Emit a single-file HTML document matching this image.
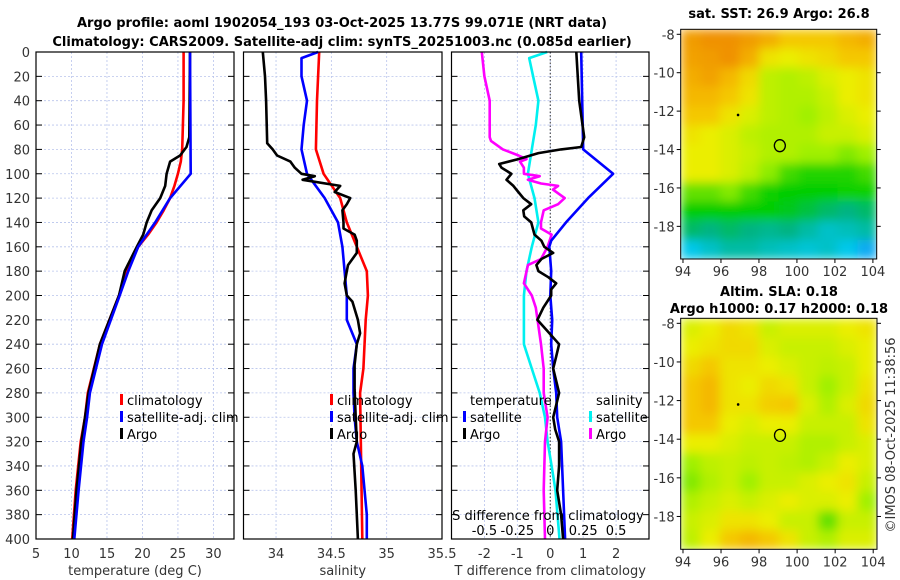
<!DOCTYPE html>
<html><head><meta charset="utf-8">
<style>
body{margin:0;background:#fff;}
svg{display:block;font-family:"DejaVu Sans","Liberation Sans",sans-serif;}
.tk{font-size:13px;fill:#333;}
.tt{font-size:13px;font-weight:bold;fill:#000;}
.lg{font-size:13px;fill:#000;}
</style></head>
<body>
<svg id="fig" width="900" height="580" viewBox="0 0 900 580">
<defs>
<filter id="blur" x="-5%" y="-5%" width="110%" height="110%"><feGaussianBlur stdDeviation="5" edgeMode="duplicate"/></filter>
<clipPath id="clipA"><rect x="680.7" y="29.3" width="196" height="229.7"/></clipPath>
<clipPath id="clipB"><rect x="680.7" y="318.3" width="196.3" height="231"/></clipPath>
</defs>
<text class="tt" x="342" y="27" text-anchor="middle">Argo profile: aoml 1902054_193 03-Oct-2025 13.77S 99.071E (NRT data)</text>
<text class="tt" x="342" y="46" text-anchor="middle">Climatology: CARS2009. Satellite-adj clim: synTS_20251003.nc (0.085d earlier)</text>
<text class="tt" x="779" y="18" text-anchor="middle">sat. SST: 26.9 Argo: 26.8</text>
<text class="tt" x="779" y="296" text-anchor="middle">Altim. SLA: 0.18</text>
<text class="tt" x="779" y="313" text-anchor="middle">Argo h1000: 0.17 h2000: 0.18</text>
<text class="tk" transform="translate(895,435) rotate(-90)" text-anchor="middle">©IMOS 08-Oct-2025 11:38:56</text>
</svg>
<script>
// ---------- data ----------
const depthTicks=[0,20,40,60,80,100,120,140,160,180,200,220,240,260,280,300,320,340,360,380,400];
const tempTicks=[5,10,15,20,25,30];
const salTicks=[34,34.5,35,35.5];
const salTickLabels=["34","34.5","35","35.5"];
const diffTicks=[-2,-1,0,1,2];
const sdiffTicks=[-0.5,-0.25,0,0.25,0.5];
const sdiffTickLabels=["-0.5","-0.25","0","0.25","0.5"];

const climTDepth=[0,40,80,90,100,110,120,130,140,150,160,180,200,240,280,300,320,360,400];
const climT=[25.8,25.8,25.6,25.4,25.0,24.5,23.9,23.0,22.0,20.8,19.4,17.8,16.7,14.0,12.3,11.9,11.3,10.6,10.1];
const satTDepth=[0,100,120,140,160,180,200,240,280,300,320,360,400];
const satT=[26.7,26.8,23.9,21.8,19.4,18.0,16.8,14.3,12.6,12.2,11.7,11.0,10.4];
const argoTDepth=[0,70,78,85,90,100,110,120,130,140,150,160,180,200,240,280,300,320,360,400];
const argoT=[26.7,26.6,26.2,25.3,23.9,23.4,23.2,22.5,21.3,20.6,20.1,19.2,17.5,16.7,14.0,12.4,11.9,11.4,10.7,10.2];

const climSDepth=[0,40,80,100,120,140,160,180,200,220,260,280,400];
const climS=[34.39,34.37,34.36,34.43,34.58,34.64,34.73,34.82,34.83,34.81,34.79,34.76,34.78];
const satSDepth=[0,5,20,40,60,80,100,120,140,160,180,200,220,240,260,280,300,320,340,380,400];
const satS=[34.38,34.23,34.23,34.28,34.25,34.23,34.28,34.44,34.56,34.60,34.62,34.64,34.64,34.73,34.70,34.70,34.71,34.73,34.78,34.82,34.82];
const argoSDepth=[0,20,40,75,80,85,90,95,100,102,105,110,115,120,125,130,140,145,150,155,165,175,180,190,200,205,220,231,240,257,277,300,320,330,360,400];
const argoS=[33.88,33.90,33.91,33.92,33.97,34.01,34.13,34.17,34.23,34.35,34.24,34.58,34.53,34.67,34.64,34.60,34.61,34.61,34.71,34.73,34.73,34.65,34.64,34.62,34.64,34.69,34.74,34.76,34.73,34.71,34.71,34.72,34.73,34.70,34.72,34.74];

const dTSatDepth=[0,80,100,120,140,155,160,180,200,220,240,260,280,300,320,360,400];
const dTSat=[0.94,1.0,1.91,1.15,0.48,0.03,-0.03,0.03,0,0.06,0.03,0.09,0.18,0.21,0.33,0.39,0.45];
const dTArgoDepth=[0,40,70,78,80,83,88,92,95,100,105,110,115,120,125,130,135,140,150,155,160,165,170,175,180,185,190,195,200,210,220,230,240,250,260,280,290,300,310,320,340,360,380,400];
const dTArgo=[0.79,0.88,1.03,0.94,0.33,-0.36,-0.97,-1.55,-1.48,-1.18,-1.33,-1.12,-0.97,-0.82,-0.58,-0.82,-0.79,-0.58,-0.48,-0.27,-0.18,0.09,-0.27,-0.42,-0.36,-0.06,0.18,0.03,0.03,-0.21,-0.39,-0.06,0.27,0.18,0.09,0.27,0.18,0.09,0.15,0.27,0.27,0.21,0.33,0.39];
const dSSatDepth=[0,5,20,40,60,80,100,120,140,160,180,200,220,240,260,280,300,320,340,360,400];
const dSSat=[-0.023,-0.16,-0.13,-0.09,-0.11,-0.14,-0.17,-0.12,-0.09,-0.14,-0.18,-0.20,-0.20,-0.20,-0.14,-0.08,-0.04,-0.02,0.01,0.04,0.07];
const dSArgoDepth=[0,20,40,70,73,80,85,88,90,95,100,102,105,108,110,113,120,125,130,140,145,150,160,170,175,190,200,210,240,260,280,300,320,360,400];
const dSArgo=[-0.52,-0.50,-0.46,-0.46,-0.45,-0.36,-0.24,-0.18,-0.23,-0.20,-0.20,-0.08,-0.17,-0.07,0.06,0.02,0.11,0.06,-0.05,-0.07,-0.07,0.01,-0.02,-0.07,-0.17,-0.20,-0.14,-0.11,-0.07,-0.05,-0.05,-0.02,-0.04,-0.05,-0.04];

// map data (normalised colour index 0=blue .. 1=orange), rows from north to south
const lonTicks=[94,96,98,100,102,104];
const latTicks=[-8,-10,-12,-14,-16,-18];
const sstGrid=[
[0.93,0.95,0.95,0.93,0.90,0.85,0.85,0.85,0.88,0.90],
[0.92,0.93,0.95,0.90,0.80,0.78,0.80,0.82,0.85,0.85],
[0.90,0.92,0.88,0.82,0.70,0.68,0.70,0.75,0.78,0.80],
[0.88,0.88,0.85,0.80,0.70,0.68,0.68,0.72,0.78,0.80],
[0.85,0.85,0.80,0.75,0.70,0.68,0.65,0.70,0.75,0.78],
[0.80,0.78,0.75,0.70,0.68,0.68,0.68,0.72,0.72,0.75],
[0.78,0.78,0.75,0.72,0.68,0.68,0.65,0.65,0.60,0.65],
[0.78,0.78,0.75,0.70,0.62,0.50,0.45,0.45,0.45,0.50],
[0.55,0.55,0.60,0.50,0.42,0.40,0.40,0.40,0.42,0.42],
[0.40,0.40,0.40,0.40,0.40,0.38,0.35,0.32,0.30,0.32],
[0.32,0.30,0.32,0.30,0.28,0.30,0.25,0.20,0.22,0.25],
[0.15,0.20,0.25,0.25,0.22,0.20,0.18,0.20,0.15,0.10]];
const slaGrid=[
[0.75,0.78,0.82,0.80,0.72,0.75,0.75,0.75,0.78,0.80],
[0.78,0.80,0.82,0.82,0.75,0.72,0.72,0.72,0.75,0.78],
[0.82,0.85,0.80,0.80,0.78,0.75,0.72,0.70,0.72,0.78],
[0.85,0.88,0.80,0.78,0.82,0.80,0.72,0.65,0.72,0.80],
[0.85,0.88,0.80,0.80,0.84,0.85,0.75,0.68,0.75,0.82],
[0.85,0.85,0.78,0.75,0.78,0.78,0.72,0.72,0.72,0.80],
[0.78,0.78,0.75,0.72,0.72,0.72,0.68,0.68,0.72,0.75],
[0.65,0.70,0.72,0.70,0.72,0.70,0.68,0.72,0.78,0.75],
[0.60,0.68,0.72,0.65,0.72,0.72,0.75,0.78,0.80,0.72],
[0.68,0.72,0.75,0.72,0.75,0.78,0.75,0.75,0.78,0.65],
[0.72,0.75,0.80,0.80,0.78,0.72,0.72,0.55,0.72,0.72],
[0.70,0.78,0.85,0.88,0.85,0.80,0.72,0.68,0.75,0.75]];
const argoPos=[99.1,-13.8];
const otherPos=[96.9,-12.2];

// ---------- drawing ----------
const NS='http://www.w3.org/2000/svg';
const svg=document.getElementById('fig');
function mk(tag,attrs,parent){const e=document.createElementNS(NS,tag);for(const k in attrs)e.setAttribute(k,attrs[k]);(parent||svg).appendChild(e);return e;}
const Y0=52,Y1=539;
function yScale(d){return Y0+d*(Y1-Y0)/400;}
function lin(d0,d1,r0,r1){return v=>r0+(v-d0)*(r1-r0)/(d1-d0);}
const panels=[
 {name:'temperature-panel',x0:36,x1:234,sx:lin(5,32.9,36,234),ticks:tempTicks,labels:tempTicks.map(String),title:'temperature (deg C)',depthLabels:true},
 {name:'salinity-panel',x0:243.5,x1:442,sx:lin(33.706,35.5,243.5,442),ticks:salTicks,labels:salTickLabels,title:'salinity'},
 {name:'difference-panel',x0:451.5,x1:649,sx:lin(-3,3,451.5,649),ticks:diffTicks,labels:diffTicks.map(String),title:'T difference from climatology'}
];
panels.forEach(p=>{
  const g=mk('g',{});
  
  
  depthTicks.forEach(d=>{
    const y=yScale(d);
    const gl=mk('line',{x1:p.x0,x2:p.x1,y1:y,y2:y,stroke:'#b8c4ec','stroke-width':0.8,'stroke-dasharray':'2,2'},g);
    
    
    mk('line',{x1:p.x0,x2:p.x0+6,y1:y,y2:y,stroke:'#000'},g);
    mk('line',{x1:p.x1-6,x2:p.x1,y1:y,y2:y,stroke:'#000'},g);
    if(p.depthLabels){const t=mk('text',{class:'tk',x:30,y:y+5,'text-anchor':'end'},g);t.textContent=d;
      
      }
  });
  p.ticks.forEach((v,i)=>{
    const x=p.sx(v);
    if(x>p.x0+2&&x<p.x1-2){
      const gl=mk('line',{x1:x,x2:x,y1:Y0,y2:Y1,stroke:'#b8c4ec','stroke-width':0.8,'stroke-dasharray':'2,2'},g);
      
      
    }
    const t=mk('text',{class:'tk',x:x,y:558,'text-anchor':'middle'},g);t.textContent=p.labels[i];
    
    
  });
  const tt=mk('text',{class:'tk',x:(p.x0+p.x1)/2,y:575,'text-anchor':'middle'},g);tt.textContent=p.title;
  
  
});
{
  const x=panels[2].sx(0);
  const z=mk('line',{x1:x,x2:x,y1:Y0,y2:Y1,stroke:'#333','stroke-width':1,'stroke-dasharray':'1.5,2'});
  
  
}
function line(depths,vals,sx,color,name){
  const pts=depths.map((d,i)=>sx(vals[i]).toFixed(1)+','+yScale(d).toFixed(1)).join(' ');
  const l=mk('polyline',{points:pts,fill:'none',stroke:color,'stroke-width':2.6,'stroke-linejoin':'round'});
  
  
}
const sT=panels[0].sx,sS=panels[1].sx,sD=panels[2].sx;
const sDS=v=>sD(v*4);
line(climTDepth,climT,sT,'#ff0000','temp-climatology-line');
line(argoTDepth,argoT,sT,'#000000','temp-argo-line');
line(satTDepth,satT,sT,'#0000ff','temp-satellite-line');
line(climSDepth,climS,sS,'#ff0000','sal-climatology-line');
line(satSDepth,satS,sS,'#0000ff','sal-satellite-line');
line(argoSDepth,argoS,sS,'#000000','sal-argo-line');
line(dSSatDepth,dSSat,sDS,'#00f0f0','sdiff-satellite-line');
line(dSArgoDepth,dSArgo,sDS,'#ff00ff','sdiff-argo-line');
line(dTSatDepth,dTSat,sD,'#0000ff','tdiff-satellite-line');
line(dTArgoDepth,dTArgo,sD,'#000000','tdiff-argo-line');
panels.forEach(p=>{
  const r=mk('rect',{x:p.x0,y:Y0,width:p.x1-p.x0,height:Y1-Y0,fill:'none',stroke:'#000','stroke-width':1.2});
  
  
});
{
  const t=mk('text',{class:'lg',x:548,y:520,'text-anchor':'middle'});t.textContent='S difference from climatology';
  
  
  sdiffTicks.forEach((v,i)=>{const l=mk('text',{class:'lg',x:sDS(v),y:535,'text-anchor':'middle'});l.textContent=sdiffTickLabels[i];
    
    });
}
function legItem(x,y,color,label,name){
  const g=mk('g',{});
  
  
  if(color) mk('rect',{x:x,y:y-11,width:3,height:11,fill:color},g);
  const t=mk('text',{class:'lg',x:x+(color?7:0),y:y},g);t.textContent=label;
}
legItem(120,405,'#ff0000','climatology','legend-climatology');
legItem(120,422,'#0000ff','satellite-adj. clim','legend-satellite-adj');
legItem(120,439,'#000000','Argo','legend-argo');
legItem(330,405,'#ff0000','climatology','legend-sal-climatology');
legItem(330,422,'#0000ff','satellite-adj. clim','legend-sal-satellite-adj');
legItem(330,439,'#000000','Argo','legend-sal-argo');
legItem(470,405,null,'temperature','legend-temperature-heading');
legItem(463,422,'#0000ff','satellite','legend-t-satellite');
legItem(463,439,'#000000','Argo','legend-t-argo');
legItem(596,405,null,'salinity','legend-salinity-heading');
legItem(589,422,'#00f0f0','satellite','legend-s-satellite');
legItem(589,439,'#ff00ff','Argo','legend-s-argo');

const stops=[[0,[20,110,255]],[0.15,[0,200,235]],[0.3,[0,180,130]],[0.4,[0,205,0]],[0.55,[100,225,0]],[0.65,[160,240,0]],[0.72,[200,240,0]],[0.78,[235,238,0]],[0.86,[245,195,0]],[0.95,[240,145,0]],[1,[230,110,0]]];
function cmap(v){
  for(let i=1;i<stops.length;i++){if(v<=stops[i][0]){const a=stops[i-1],b=stops[i],t=(v-a[0])/(b[0]-a[0]);
    return 'rgb('+a[1].map((c,k)=>Math.round(c+(b[1][k]-c)*t)).join(',')+')';}}
  return 'rgb(230,110,0)';
}
function drawMap(grid,x0,x1,y0,y1,lonA,lonB,latA,latB,name,clip){
  const g=mk('g',{});
  
  
  const sx=lin(lonA,lonB,x0,x1),sy=lin(latA,latB,y0,y1);
  const cg=mk('g',{'clip-path':'url(#'+clip+')'},g);
  const bg=mk('g',{filter:'url(#blur)'},cg);
  const nr=grid.length,nc=grid[0].length,cw=(x1-x0)/nc,ch=(y1-y0)/nr;
  grid.forEach((row,r)=>row.forEach((v,c)=>{
    const cell=mk('rect',{x:x0+c*cw,y:y0+r*ch,width:cw+0.6,height:ch+0.6,fill:cmap(v)},bg);
    
    
  }));
  mk('rect',{x:x0,y:y0,width:x1-x0,height:y1-y0,fill:'none',stroke:'#000','stroke-width':1},g);
  lonTicks.forEach(v=>{const x=sx(v);mk('line',{x1:x,x2:x,y1:y1,y2:y1+4,stroke:'#000'},g);
    const t=mk('text',{class:'tk',x:x,y:y1+17,'text-anchor':'middle'},g);t.textContent=v;
    
    });
  latTicks.forEach(v=>{const y=sy(v);mk('line',{x1:x0-4,x2:x0,y1:y,y2:y,stroke:'#000'},g);mk('line',{x1:x1,x2:x1+4,y1:y,y2:y,stroke:'#000'},g);
    const t=mk('text',{class:'tk',x:x0-6,y:y+5,'text-anchor':'end'},g);t.textContent=v;
    
    });
  const c=mk('ellipse',{cx:sx(argoPos[0]),cy:sy(argoPos[1]),rx:5.5,ry:6,fill:'none',stroke:'#000','stroke-width':1.3},g);
  
  
  const d=mk('circle',{cx:sx(otherPos[0]),cy:sy(otherPos[1]),r:1.3,fill:'#000'},g);
  
  
}
drawMap(sstGrid,680.7,876.7,29.3,259,93.88,104.2,-7.74,-19.7,'sst-map','clipA');
drawMap(slaGrid,680.7,877,318.3,549.3,93.88,104.2,-7.74,-19.7,'sla-map','clipB');
</script>
</body></html>
